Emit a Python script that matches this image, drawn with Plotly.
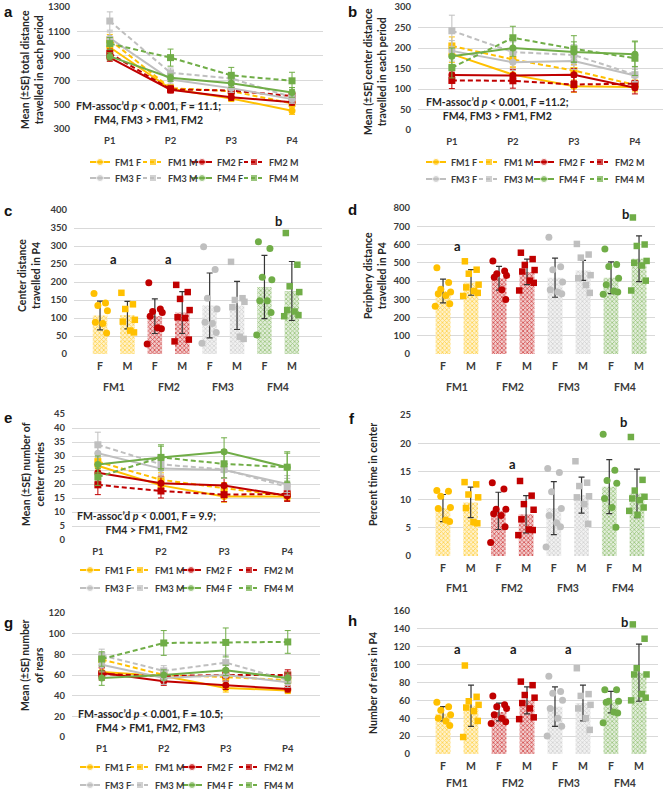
import plotly.graph_objects as go

W, H = 667, 806
FONT = "Lato, 'Liberation Sans', Arial, sans-serif"
TEXT = "#3a3a3a"
GRID = "#D9D9D9"

# ---------------- data ----------------
series_names = ["FM1 F", "FM1 M", "FM2 F", "FM2 M", "FM3 F", "FM3 M", "FM4 F", "FM4 M"]
periods = ["P1", "P2", "P3", "P4"]
group_names = ["FM1", "FM2", "FM3", "FM4"]
sex_labels = ["F", "M", "F", "M", "F", "M", "F", "M"]
colors = {"FM1": "#FFC000", "FM2": "#C00000", "FM3": "#BFBFBF", "FM4": "#70AD47"}

# (a) total distance per period
total_mean = {
    "FM1 F": [970, 630, 550, 450],
    "FM1 M": [1030, 635, 610, 510],
    "FM2 F": [885, 622, 560, 520],
    "FM2 M": [920, 625, 615, 570],
    "FM3 F": [1045, 705, 635, 545],
    "FM3 M": [1185, 760, 715, 560],
    "FM4 F": [895, 720, 675, 600],
    "FM4 M": [1000, 885, 740, 695],
}
total_se = {
    "FM1 F": [40, 25, 25, 30], "FM1 M": [45, 30, 30, 30],
    "FM2 F": [30, 25, 25, 25], "FM2 M": [35, 30, 30, 30],
    "FM3 F": [50, 35, 35, 35], "FM3 M": [75, 40, 40, 40],
    "FM4 F": [30, 30, 35, 40], "FM4 M": [50, 70, 65, 70],
}

# (b) center distance per period
center_mean = {
    "FM1 F": [185, 135, 107, 105],
    "FM1 M": [205, 172, 145, 110],
    "FM2 F": [134, 133, 135, 103],
    "FM2 M": [121, 120, 111, 113],
    "FM3 F": [193, 165, 168, 133],
    "FM3 M": [242, 190, 183, 135],
    "FM4 F": [180, 200, 190, 185],
    "FM4 M": [152, 225, 198, 175],
}
center_se = {
    "FM1 F": [20, 18, 15, 12], "FM1 M": [22, 18, 15, 12],
    "FM2 F": [20, 15, 15, 15], "FM2 M": [20, 18, 18, 15],
    "FM3 F": [25, 20, 20, 15], "FM3 M": [38, 25, 25, 18],
    "FM4 F": [20, 20, 25, 30], "FM4 M": [25, 28, 32, 42],
}

# (e) number of center entries per period
entries_mean = {
    "FM1 F": [26.5, 19.5, 15.5, 15.5],
    "FM1 M": [28, 21.5, 18.5, 15.8],
    "FM2 F": [24, 20.3, 19.5, 15.8],
    "FM2 M": [19.7, 17.5, 16.2, 16.5],
    "FM3 F": [31, 25.5, 25, 20],
    "FM3 M": [34, 27, 25.2, 19],
    "FM4 F": [27, 29.5, 31.5, 26],
    "FM4 M": [22.5, 29.5, 27.2, 26],
}
entries_se = {
    "FM1 F": [3, 2, 2, 1.5], "FM1 M": [3, 2.5, 2, 1.5],
    "FM2 F": [3, 2.5, 2.5, 2], "FM2 M": [3.5, 2.5, 2.5, 2.5],
    "FM3 F": [3.5, 3, 3, 3], "FM3 M": [4.5, 3.5, 3, 3],
    "FM4 F": [3, 4, 5, 5.5], "FM4 M": [3, 4.5, 5, 5],
}

# (g) number of rears per period
rears_mean = {
    "FM1 F": [63, 59, 47.5, 45],
    "FM1 M": [75, 60, 58, 55],
    "FM2 F": [62, 54, 50, 46.5],
    "FM2 M": [61, 59, 60, 60],
    "FM3 F": [70, 57, 60, 53],
    "FM3 M": [79, 64, 72, 55],
    "FM4 F": [57, 60, 64.5, 57],
    "FM4 M": [75.5, 91, 91.5, 92],
}
rears_se = {
    "FM1 F": [6, 5, 4, 3], "FM1 M": [6, 6, 5, 5],
    "FM2 F": [5, 4, 4, 3], "FM2 M": [6, 6, 6, 5],
    "FM3 F": [7, 6, 6, 5], "FM3 M": [6, 5, 7, 5],
    "FM4 F": [7, 5, 5, 5], "FM4 M": [7, 12, 14, 11],
}

# (c) center distance in P4
c_means = [107, 108, 105, 115, 135, 135, 186, 175]
c_sd = [40, 38, 48, 58, 90, 67, 88, 82]
c_dots = [
    [168, 142, 135, 120, 88, 85, 58],
    [170, 138, 125, 95, 90, 65, 60],
    [198, 125, 118, 115, 105, 73, 70, 28],
    [192, 172, 153, 122, 102, 100, 40, 35],
    [298, 235, 155, 125, 88, 85, 60, 30],
    [256, 155, 150, 145, 130, 48, 42],
    [312, 293, 213, 206, 148, 148, 115, 53],
    [336, 248, 188, 172, 122, 118, 108, 105],
]

# (d) periphery distance in P4
d_means = [345, 392, 415, 450, 418, 458, 418, 522]
d_sd = [65, 70, 65, 70, 107, 55, 87, 125]
d_dots = [
    [472, 392, 355, 340, 330, 320, 275, 262],
    [508, 462, 440, 380, 365, 345, 335, 318],
    [510, 455, 440, 430, 420, 352, 298],
    [555, 520, 488, 460, 452, 402, 390, 348],
    [640, 478, 462, 395, 352, 340, 330],
    [603, 545, 528, 432, 415, 378, 335],
    [575, 490, 480, 415, 380, 345, 340, 328],
    [748, 600, 592, 510, 500, 485, 402, 348],
]

# (f) percent time in center
f_means = [8.5, 9.5, 8.0, 7.4, 8.5, 10.8, 12.3, 11.1]
f_sd = [2.4, 2.7, 3.3, 3.3, 4.7, 3.2, 4.8, 4.3]
f_dots = [
    [11.6, 11.5, 10.6, 8.6, 8.4, 6.4, 6.1],
    [13.1, 12.7, 10.9, 10.4, 8.5, 6.0, 5.8],
    [13.0, 11.9, 8.3, 8.3, 7.5, 7.2, 5.2, 2.4],
    [13.3, 10.7, 9.2, 8.2, 6.5, 4.7, 4.6, 3.7],
    [15.5, 14.8, 11.4, 8.4, 7.2, 5.9, 5.2, 1.6],
    [16.8, 13.0, 12.4, 10.6, 10.4, 9.2, 5.7],
    [21.6, 15.2, 13.4, 12.9, 10.2, 8.6, 5.1],
    [21.1, 13.5, 11.6, 10.5, 10.2, 9.9, 8.6, 8.0, 7.3],
]

# (h) number of rears in P4
h_means = [45, 54, 47, 60, 53, 57, 58, 91]
h_sd = [8, 23, 10, 15, 22, 20, 12, 32]
h_dots = [
    [58, 53, 49, 44, 40, 37, 32],
    [99, 64, 59, 55, 52, 48, 37, 19],
    [65, 55, 53, 51, 44, 40, 36, 34],
    [81, 77, 66, 63, 57, 51, 41, 39],
    [87, 70, 68, 60, 51, 40, 31, 20],
    [96, 67, 65, 55, 51, 40, 27],
    [72, 72, 59, 59, 58, 47, 46, 35],
    [145, 129, 96, 89, 89, 67, 63, 60],
]

# significance letters: (label, group position, value)
c_letters = [("a", 0.5, 265), ("a", 2.5, 265), ("b", 6.5, 370)]
d_letters = [("a", 0.5, 590), ("b", 6.5, 767)]
f_letters = [("a", 2.5, 16.3), ("b", 6.5, 23.8)]
h_letters = [("a", 0.5, 118), ("a", 2.5, 118), ("a", 4.5, 118), ("b", 6.5, 148)]

# ---------------- layout geometry (pixels) ----------------
panels = {
    1: dict(box=(77, 323, 7, 129), xr=[-0.54, 3.51], yr=[300, 1300], dt=200, kind="line"),
    2: dict(box=(418, 663, 7, 130), xr=[-0.555, 3.46], yr=[0, 300], dt=50, kind="line"),
    3: dict(box=(74, 322, 210, 354), xr=[-0.95, 8.1], yr=[0, 400], dt=50, kind="bar"),
    4: dict(box=(417, 655, 208, 354), xr=[-0.93, 7.57], yr=[0, 800], dt=100, kind="bar"),
    5: dict(box=(72, 320, 414, 540), xr=[-0.41, 3.52], yr=[0, 45], dt=5, kind="line"),
    6: dict(box=(418, 660, 415, 556), xr=[-0.9, 7.83], yr=[0, 25], dt=5, kind="bar"),
    7: dict(box=(72, 320, 613, 737), xr=[-0.48, 3.52], yr=[0, 120], dt=20, kind="line"),
    8: dict(box=(417, 658, 611, 754), xr=[-0.93, 7.68], yr=[0, 160], dt=20, kind="bar"),
}

JITTER = [-0.22, 0.2, -0.08, 0.27, -0.17, 0.1, 0.24, -0.28, 0.02]
BAR_W = 0.53


def tint(hexcol, f):
    h = hexcol.lstrip("#")
    r, g, b = (int(h[i:i + 2], 16) for i in (0, 2, 4))
    r = int(r + (255 - r) * f)
    g = int(g + (255 - g) * f)
    b = int(b + (255 - b) * f)
    return f"rgb({r},{g},{b})"


def font(size, color=TEXT, family=FONT):
    return dict(family=family, size=size, color=color, weight="bold")


fig = go.Figure()
layout = dict(
    width=W, height=H, margin=dict(l=0, r=0, t=0, b=0, autoexpand=False),
    paper_bgcolor="white", plot_bgcolor="rgba(0,0,0,0)",
    showlegend=False, font=dict(family=FONT, color=TEXT),
)

for i, p in panels.items():
    l, r, t, b = p["box"]
    s = "" if i == 1 else str(i)
    xa = dict(domain=[l / W, r / W], range=p["xr"], anchor=f"y{s}", showgrid=False,
              zeroline=False, showline=False, ticks="", tickfont=font(9.5),
              fixedrange=True, automargin=False, ticklabelstandoff=4,
              ticklabeloverflow="allow")
    if p["kind"] == "line":
        xa.update(type="category", categoryorder="array", categoryarray=periods)
    else:
        xa.update(type="linear", tickmode="array", tickvals=list(range(8)),
                  ticktext=sex_labels, tickfont=font(10.5), ticklabelstandoff=4)
    ya = dict(domain=[1 - b / H, 1 - t / H], range=p["yr"], anchor=f"x{s}",
              tick0=p["yr"][0], dtick=p["dt"], showgrid=True, gridcolor=GRID, gridwidth=1,
              zeroline=False, showline=False, ticks="", tickfont=font(9.5),
              fixedrange=True, automargin=False, ticklabelstandoff=6,
              ticklabeloverflow="allow")
    layout[f"xaxis{s}"] = xa
    layout[f"yaxis{s}"] = ya

# pixel canvas axis (for legends / text)
layout["xaxis9"] = dict(domain=[0, 1], range=[0, W], visible=False, fixedrange=True,
                        anchor="y9", automargin=False)
layout["yaxis9"] = dict(domain=[0, 1], range=[H, 0], visible=False, fixedrange=True,
                        anchor="x9", automargin=False)


def add_line_panel(idx, means, ses):
    s = "" if idx == 1 else str(idx)
    for name in series_names:
        grp, sex = name.split()
        col = colors[grp]
        fig.add_trace(go.Scatter(
            x=periods, y=means[name], mode="lines+markers",
            line=dict(color=col, width=2, dash="solid" if sex == "F" else "5px,3px"),
            marker=dict(symbol="circle" if sex == "F" else "square", size=7, color=col),
            error_y=dict(type="data", array=ses[name], color=col, thickness=1, width=3),
            xaxis=f"x{s}", yaxis=f"y{s}", hoverinfo="skip"))


def add_bar_panel(idx, means, sds, dots):
    s = str(idx)
    for k, name in enumerate(series_names):
        grp, sex = name.split()
        col = colors[grp]
        fig.add_trace(go.Bar(
            x=[k], y=[means[k]], width=BAR_W, opacity=0.88,
            marker=dict(color=tint(col, 0.5), line=dict(width=0),
                        pattern=dict(shape="x", fgcolor=tint(col, 0.2), bgcolor=tint(col, 0.78),
                                     size=3, solidity=0.45, fillmode="replace")),
            error_y=dict(type="data", array=[sds[k]], color="#1a1a1a", thickness=1.2, width=3),
            xaxis=f"x{s}", yaxis=f"y{s}", hoverinfo="skip"))
    for k, name in enumerate(series_names):
        grp, sex = name.split()
        col = colors[grp]
        vals = dots[k]
        xs = [k + JITTER[j % len(JITTER)] for j in range(len(vals))]
        fig.add_trace(go.Scatter(
            x=xs, y=vals, mode="markers",
            marker=dict(symbol="circle" if sex == "F" else "square",
                        size=7 if sex == "F" else 6.5, color=col),
            xaxis=f"x{s}", yaxis=f"y{s}", hoverinfo="skip"))


add_line_panel(1, total_mean, total_se)
add_line_panel(2, center_mean, center_se)
add_bar_panel(3, c_means, c_sd, c_dots)
add_bar_panel(4, d_means, d_sd, d_dots)
add_line_panel(5, entries_mean, entries_se)
add_bar_panel(6, f_means, f_sd, f_dots)
add_line_panel(7, rears_mean, rears_se)
add_bar_panel(8, h_means, h_sd, h_dots)

annotations = []

# custom legends (pixel positions of text starts, row centres)
legend_specs = {
    1: dict(tx=[113, 166, 215, 267], rows=[162, 178]),
    2: dict(tx=[449, 502, 557, 613], rows=[162, 179]),
    5: dict(tx=[103, 153, 204, 262], rows=[570, 588]),
    7: dict(tx=[103, 153, 205, 262], rows=[767, 785]),
}
SYM = 20
for idx, spec in legend_specs.items():
    for r_i, yrow in enumerate(spec["rows"]):
        for c_i, tx in enumerate(spec["tx"]):
            name = series_names[r_i * 4 + c_i]
            grp, sex = name.split()
            col = colors[grp]
            x1 = tx - 3
            x0 = x1 - SYM
            fig.add_trace(go.Scatter(
                x=[x0, (x0 + x1) / 2, x1], y=[yrow, yrow, yrow], mode="lines+markers",
                line=dict(color=col, width=2, dash="solid" if sex == "F" else "4px,3px"),
                marker=dict(symbol="circle" if sex == "F" else "square",
                            size=[0, 7, 0], color=col),
                xaxis="x9", yaxis="y9", hoverinfo="skip"))
            annotations.append(dict(x=tx, y=yrow, xref="x9", yref="y9", text=name,
                                    showarrow=False, xanchor="left", yanchor="middle",
                                    font=font(9)))

# statistics text
stats = [
    ("FM-assoc’d <i>p</i> &lt; 0.001, F = 11.1;<br>FM4, FM3 &gt; FM1, FM2", 148, 113),
    ("FM-assoc’d <i>p</i> &lt; 0.001, F =11.2;<br>FM4, FM3 &gt; FM1, FM2", 497, 109),
    ("FM-assoc’d <i>p</i> &lt; 0.001, F = 9.9;<br>FM4 &gt; FM1, FM2", 146, 523),
    ("FM-assoc’d <i>p</i> &lt; 0.001, F = 10.5;<br>FM4 &gt; FM1, FM2, FM3", 150, 721),
]
for txt, x, y in stats:
    annotations.append(dict(x=x, y=y, xref="x9", yref="y9", text=txt, showarrow=False,
                            xanchor="center", yanchor="middle", align="center",
                            font=font(10.5, "#262626")))

# y-axis titles
ytitles = [
    ("Mean (±SE) total distance<br>travelled in each period", 32, 70),
    ("Mean (±SE) center distance<br>travelled in each period", 375, 72),
    ("Center distance<br>travelled in P4", 29, 276),
    ("Periphery distance<br>travelled in P4", 375, 276),
    ("Mean (±SE) number of<br>center entries", 33, 474),
    ("Percent time in center", 373, 475),
    ("Mean (±SE) number<br>of rears", 32, 665),
    ("Number of rears in P4", 373, 683),
]
for txt, x, y in ytitles:
    annotations.append(dict(x=x, y=y, xref="x9", yref="y9", text=txt, showarrow=False,
                            textangle=-90, xanchor="center", yanchor="middle",
                            align="center", font=font(10.5, "#262626")))

# panel letters
letters = [("a", 8, 11), ("b", 352, 11), ("c", 8, 210), ("d", 352, 209),
           ("e", 8, 417), ("f", 352, 418), ("g", 8, 622), ("h", 352, 620)]
for txt, x, y in letters:
    annotations.append(dict(x=x, y=y, xref="x9", yref="y9", text=txt, showarrow=False,
                            xanchor="center", yanchor="middle",
                            font=dict(family="'Liberation Sans', Arial, sans-serif",
                                      size=15, color="#111111", weight="bold")))

# group labels under bar panels
group_label_y = {3: 387, 4: 387, 6: 588, 8: 783}
for idx, ypx in group_label_y.items():
    for g_i, g in enumerate(group_names):
        annotations.append(dict(x=2 * g_i + 0.5, y=1 - ypx / H, xref=f"x{idx}", yref="paper",
                                text=g, showarrow=False, xanchor="center", yanchor="middle",
                                font=font(10.5)))

# significance letters
for idx, lets in [(3, c_letters), (4, d_letters), (6, f_letters), (8, h_letters)]:
    for txt, xv, yv in lets:
        annotations.append(dict(x=xv, y=yv, xref=f"x{idx}", yref=f"y{idx}", text=txt,
                                showarrow=False, xanchor="center", yanchor="middle",
                                font=font(13, "#1a1a1a")))

layout["annotations"] = annotations
fig.update_layout(**layout)
fig.write_html("out.html", config={"displayModeBar": False, "staticPlot": True},
               post_script="document.body.style.margin='0px';document.body.style.overflow='hidden';")
